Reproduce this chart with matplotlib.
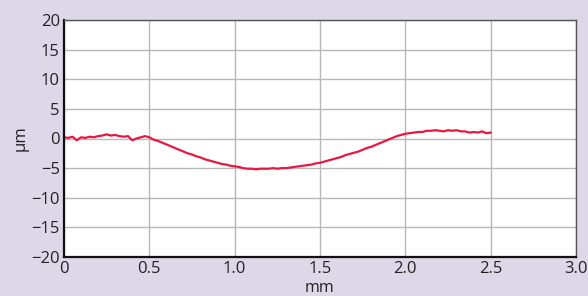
import numpy as np
import matplotlib
matplotlib.use("Agg")
import matplotlib.pyplot as plt

x_mm = [round(i * 0.025, 3) for i in range(101)]
y_um = [0.2, 0.1, 0.3, -0.3, 0.2, 0.1, 0.3, 0.2, 0.4, 0.5,
        0.7, 0.5, 0.6, 0.4, 0.3, 0.4, -0.3, 0.0, 0.2, 0.4,
        0.2, -0.2, -0.4, -0.7, -1.0, -1.3, -1.6, -1.9, -2.2, -2.5,
        -2.7, -3.0, -3.2, -3.5, -3.7, -3.9, -4.1, -4.3, -4.4, -4.6,
        -4.7, -4.8, -5.0, -5.1, -5.1, -5.2, -5.1, -5.1, -5.1, -5.0,
        -5.1, -5.0, -5.0, -4.9, -4.8, -4.7, -4.6, -4.5, -4.4, -4.2,
        -4.1, -3.9, -3.7, -3.5, -3.3, -3.1, -2.8, -2.6, -2.4, -2.2,
        -1.9, -1.6, -1.4, -1.1, -0.8, -0.5, -0.2, 0.1, 0.4, 0.6,
        0.8, 0.9, 1.0, 1.1, 1.1, 1.3, 1.3, 1.4, 1.3, 1.2,
        1.4, 1.3, 1.4, 1.2, 1.2, 1.0, 1.1, 1.0, 1.2, 0.9,
        1.0]

x_ticks = [0, 0.5, 1.0, 1.5, 2.0, 2.5, 3.0]
x_tick_labels = ["0", "0.5", "1.0", "1.5", "2.0", "2.5", "3.0"]
y_ticks = [-20, -15, -10, -5, 0, 5, 10, 15, 20]
y_tick_labels = ["\u221220", "\u221215", "\u221210", "\u22125", "0", "5", "10", "15", "20"]

plt.rcParams['font.family'] = ['Open Sans', 'DejaVu Sans']

fig = plt.figure(figsize=(5.88, 2.96), dpi=100, facecolor="#dcd8e8")
ax = fig.add_axes([64/588, 1 - 257/296, (576-64)/588, (257-20)/296])
ax.set_facecolor("white")
ax.plot(x_mm, y_um, color="#e8173f", lw=1.6)
ax.set_xlim(0, 3.0)
ax.set_ylim(-20, 20)
ax.set_xticks(x_ticks)
ax.set_xticklabels(x_tick_labels)
ax.set_yticks(y_ticks)
ax.set_yticklabels(y_tick_labels)
ax.grid(True, color="#b8b8b8", lw=1.0)
ax.set_axisbelow(True)
ax.tick_params(length=0, labelsize=12, colors="#222222", pad=3)
for s in ["left", "bottom"]:
    ax.spines[s].set_color("#111111")
    ax.spines[s].set_linewidth(1.6)
for s in ["top", "right"]:
    ax.spines[s].set_color("#555555")
    ax.spines[s].set_linewidth(1.0)
ax.set_xlabel("mm", fontsize=11.5, color="#222222", labelpad=0)
ax.xaxis.set_label_coords(0.5, -0.098)
ax.set_ylabel("\u00b5m", fontsize=12, color="#222222", labelpad=2)
fig.savefig("out.png", dpi=100, facecolor=fig.get_facecolor())
